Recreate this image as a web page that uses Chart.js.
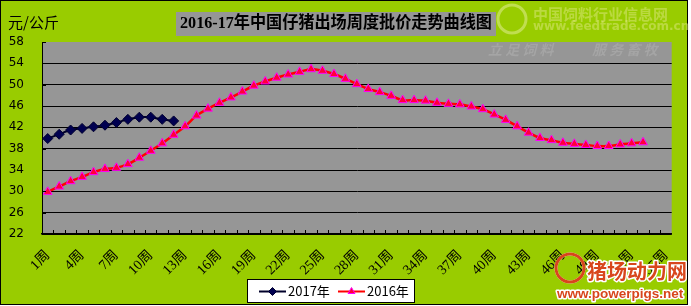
<!DOCTYPE html>
<html lang="zh-CN">
<head>
  <meta charset="UTF-8">
  <title>2016-17年中国仔猪出场周度批价走势曲线图</title>
  <script src="https://cdn.jsdelivr.net/npm/chart.js"></script>
  <style>
    html, body { margin: 0; padding: 0; background: #ffffff; }
    #wrap { width: 691px; height: 306px; }
  </style>
</head>
<body>
  <div id="wrap"><canvas id="priceChart" width="691" height="306"></canvas></div>

  <script>
    // weeks 1..55 on the category axis, only every third one gets a label
    const weekLabels = [];
    for (let i = 1; i <= 55; i++) weekLabels.push(i + '周');

    const price2017 = [39.9, 40.7, 41.5, 41.8, 42.1, 42.4, 42.9, 43.5, 43.9, 43.9, 43.5, 43.2];
    const price2016 = [
      29.9, 30.9, 31.9, 32.7, 33.6, 34.2, 34.4, 35.1, 36.3, 37.6,
      39.0, 40.6, 42.2, 44.2, 45.5, 46.6, 47.6, 48.7, 49.8, 50.6,
      51.3, 51.9, 52.4, 52.9, 52.6, 52.0, 51.1, 50.1, 49.2, 48.6,
      47.9, 47.1, 47.1, 47.0, 46.6, 46.4, 46.3, 45.9, 45.4, 44.4,
      43.4, 42.2, 41.0, 40.0, 39.6, 39.1, 38.9, 38.7, 38.5, 38.5,
      38.8, 39.0, 39.2
    ];
    const yTicks = { min: 22, max: 58, step: 4 };

    const chartTitle = '2016-17年中国仔猪出场周度批价走势曲线图';
    const unitLabel = '元/公斤';

    const CJK = '"Noto Sans CJK SC", "DejaVu Sans", sans-serif';

    // background, title box, unit text, inner tick marks, legend box, watermarks
    const decorPlugin = {
      id: 'decor',
      beforeDraw(chart) {
        const ctx = chart.ctx;
        const a = chart.chartArea;
        ctx.save();
        ctx.fillStyle = '#ffffff';
        ctx.fillRect(0, 0, chart.width, chart.height);
        ctx.fillStyle = '#99CC00';
        ctx.fillRect(0, 0, 688, 305);
        ctx.strokeStyle = '#000000';
        ctx.lineWidth = 1;
        ctx.strokeRect(0.5, 0.5, 687, 304);

        ctx.fillStyle = '#969696';
        ctx.fillRect(a.left, a.top, a.right - a.left, a.bottom - a.top);

        // title
        ctx.fillRect(176, 12, 320, 24);
        ctx.fillStyle = '#000000';
        ctx.font = 'bold 16.5px "Liberation Serif", ' + CJK;
        ctx.textAlign = 'center';
        ctx.textBaseline = 'middle';
        ctx.fillText(chartTitle, 336, 24, 312);

        // y unit
        ctx.font = '15px ' + CJK;
        ctx.textAlign = 'left';
        ctx.fillText(unitLabel, 8, 22);
        ctx.restore();
      },
      afterDraw(chart) {
        const ctx = chart.ctx;
        const a = chart.chartArea;
        const xs = chart.scales.x;
        const ys = chart.scales.y;
        ctx.save();
        ctx.strokeStyle = '#000000';
        ctx.lineWidth = 1;

        // category boundary ticks pointing up into the plot
        const step = (a.right - a.left) / weekLabels.length;
        ctx.beginPath();
        for (let i = 1; i < weekLabels.length; i++) {
          const x = Math.round(xs.getPixelForValue(i) - step / 2) + 0.5;
          ctx.moveTo(x, a.bottom);
          ctx.lineTo(x, a.bottom - 4);
        }
        // value ticks pointing right
        for (let v = yTicks.min; v <= yTicks.max; v += yTicks.step) {
          const y = Math.round(ys.getPixelForValue(v)) + 0.5;
          ctx.moveTo(a.left, y);
          ctx.lineTo(a.left + 4, y);
        }
        ctx.stroke();

        // legend
        const lx = 247, ly = 279, lw = 167, lh = 23;
        ctx.fillStyle = '#ffffff';
        ctx.fillRect(lx, ly, lw, lh);
        ctx.strokeRect(lx + 0.5, ly + 0.5, lw, lh);
        const items = [{ x: 259, ds: chart.data.datasets[0] }, { x: 338, ds: chart.data.datasets[1] }];
        const cy = ly + lh / 2 + 1;
        items.forEach(it => {
          ctx.strokeStyle = it.ds.borderColor;
          ctx.lineWidth = 2;
          ctx.beginPath();
          ctx.moveTo(it.x, cy);
          ctx.lineTo(it.x + 27, cy);
          ctx.stroke();
          ctx.fillStyle = it.ds.pointBackgroundColor;
          ctx.strokeStyle = it.ds.pointBorderColor;
          ctx.lineWidth = 1;
          Chart.helpers.drawPoint(ctx, { pointStyle: it.ds.pointStyle, radius: it.ds.pointRadius - 1, borderWidth: 1 }, it.x + 13.5, cy);
          ctx.fillStyle = '#000000';
          ctx.font = '13px ' + CJK;
          ctx.textAlign = 'left';
          ctx.textBaseline = 'middle';
          ctx.fillText(it.ds.label, it.x + 29, cy);
        });

        // site watermarks
        ctx.textBaseline = 'middle';
        ctx.textAlign = 'left';
        ctx.globalAlpha = 0.5;
        ctx.strokeStyle = '#e8f0a0';
        ctx.lineWidth = 3;
        ctx.beginPath();
        ctx.arc(512, 19, 14, 0, Math.PI * 2);
        ctx.stroke();
        ctx.fillStyle = '#dde880';
        ctx.font = 'bold 15px ' + CJK;
        ctx.fillText('中国饲料行业信息网', 533, 14);
        ctx.font = 'bold 12px "DejaVu Sans", sans-serif';
        ctx.fillText('www.feedtrade.com.cn', 533, 27);
        ctx.fillStyle = '#b4b4b4';
        ctx.font = 'italic bold 14px ' + CJK;
        ctx.fillText('立 足 饲 料', 488, 50);
        ctx.fillText('服 务 畜 牧', 592, 50);
        ctx.globalAlpha = 1;

        ctx.lineJoin = 'round';
        ctx.strokeStyle = '#ffffff';
        ctx.lineWidth = 3;
        ctx.beginPath();
        ctx.arc(570, 268, 14, 0, Math.PI * 2);
        ctx.stroke();
        ctx.strokeStyle = '#d8461c';
        ctx.lineWidth = 3;
        ctx.stroke();
        ctx.font = 'bold 20px ' + CJK;
        ctx.strokeStyle = '#ffffff';
        ctx.lineWidth = 3;
        ctx.strokeText('猪场动力网', 587, 271);
        ctx.fillStyle = '#d8461c';
        ctx.fillText('猪场动力网', 587, 271);
        ctx.font = 'bold 13.5px "Liberation Sans", sans-serif';
        ctx.strokeText('www.powerpigs.net', 557, 294);
        ctx.fillText('www.powerpigs.net', 557, 294);
        ctx.restore();
      }
    };

    const ctx = document.getElementById('priceChart').getContext('2d');
    new Chart(ctx, {
      type: 'line',
      data: {
        labels: weekLabels,
        datasets: [
          {
            label: '2017年',
            data: price2017,
            borderColor: '#00002a',
            borderWidth: 2,
            pointStyle: 'rectRot',
            pointRadius: 5,
            pointBackgroundColor: '#000050',
            pointBorderColor: '#000030',
            pointBorderWidth: 1,
            tension: 0.3
          },
          {
            label: '2016年',
            data: price2016,
            borderColor: '#FF0000',
            borderWidth: 2.5,
            pointStyle: 'triangle',
            pointRadius: 5,
            pointBackgroundColor: '#FF0038',
            pointBorderColor: '#FF00FF',
            pointBorderWidth: 1,
            tension: 0.4
          }
        ]
      },
      options: {
        responsive: false,
        animation: false,
        devicePixelRatio: 1,
        layout: { padding: { top: 42, right: 17, left: 0, bottom: 0 } },
        plugins: {
          legend: { display: false },
          tooltip: { enabled: false }
        },
        scales: {
          x: {
            offset: true,
            afterFit: s => { s.height = 72; },
            grid: { drawOnChartArea: false, drawTicks: false },
            border: { color: '#000000', width: 1.5 },
            ticks: {
              autoSkip: false,
              maxRotation: 45,
              minRotation: 45,
              padding: 13,
              color: '#000000',
              font: { family: '"Liberation Serif", ' + CJK, size: 14 },
              callback: (v, i) => (i % 3 === 0 ? weekLabels[i] : '')
            }
          },
          y: {
            min: yTicks.min,
            max: yTicks.max,
            afterFit: s => { s.width = 42; },
            grid: {
              drawTicks: false,
              color: c => (c.tick.value === yTicks.max ? 'rgba(0,0,0,0)' : '#000000'),
              lineWidth: 1
            },
            border: { color: '#000000', width: 1 },
            ticks: {
              stepSize: yTicks.step,
              padding: 18,
              color: '#000000',
              font: { family: '"DejaVu Sans", sans-serif', size: 12 }
            }
          }
        }
      },
      plugins: [decorPlugin]
    });
  </script>
</body>
</html>
